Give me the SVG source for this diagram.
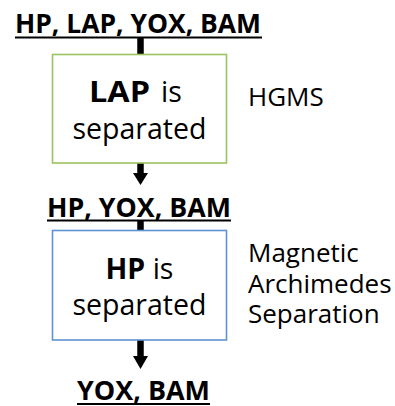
<svg xmlns="http://www.w3.org/2000/svg" width="395" height="406" viewBox="0 0 395 406">
<style>
.t{font-family:"Open Sans","Noto Sans",sans-serif;fill:#000}
.b{font-weight:bold;font-size:26px}
.bx{font-size:28.5px}
.lab{font-size:26px}
.ul{stroke:#000;stroke-width:2}
.sh{stroke:#000;stroke-width:6.5}
</style>
<rect width="395" height="406" fill="#fff"/>
<g id="connectors">
<line class="sh" x1="140.5" y1="38" x2="140.5" y2="55"/>
<line class="sh" x1="140.5" y1="163" x2="140.5" y2="174"/>
<polygon points="133,173 148,173 140.5,185"/>
<line class="sh" x1="140.5" y1="221" x2="140.5" y2="231"/>
<line class="sh" x1="140.5" y1="340" x2="140.5" y2="357"/>
<polygon points="133,356 148,356 140.5,369"/>
</g>
<g id="t1">
<text class="t b" x="15" y="33" textLength="246" lengthAdjust="spacingAndGlyphs">HP, LAP, YOX, BAM</text>
<line class="ul" x1="15" y1="37.5" x2="262" y2="37.5"/>
</g>
<g id="box1">
<rect x="52.5" y="54.5" width="174" height="108.5" fill="#fff" stroke="#9bc35f" stroke-width="1.6"/>
<text class="t bx" x="89" y="102" font-weight="bold" textLength="61" lengthAdjust="spacingAndGlyphs">LAP</text>
<text class="t bx" x="161" y="102">is</text>
<text class="t bx" x="139.5" y="139" text-anchor="middle">separated</text>
</g>
<g id="t2">
<text class="t b" x="47" y="217" textLength="184" lengthAdjust="spacingAndGlyphs">HP, YOX, BAM</text>
<line class="ul" x1="47" y1="220.5" x2="231" y2="220.5"/>
</g>
<g id="box2">
<rect x="52.5" y="230.5" width="174" height="109.5" fill="#fff" stroke="#5f93d3" stroke-width="1.6"/>
<text class="t bx" x="139.5" y="279" text-anchor="middle"><tspan font-weight="bold">HP</tspan> is</text>
<text class="t bx" x="139.5" y="315" text-anchor="middle">separated</text>
</g>
<g id="t3">
<text class="t b" x="77" y="400" textLength="133" lengthAdjust="spacingAndGlyphs">YOX, BAM</text>
<line class="ul" x1="77" y1="404" x2="210" y2="404"/>
</g>
<g id="lab1">
<text class="t lab" x="248" y="106">HGMS</text>
</g>
<g id="lab2">
<text class="t lab" x="248" y="262">Magnetic</text>
<text class="t lab" x="248" y="293">Archimedes</text>
<text class="t lab" x="248" y="323">Separation</text>
</g>
</svg>
